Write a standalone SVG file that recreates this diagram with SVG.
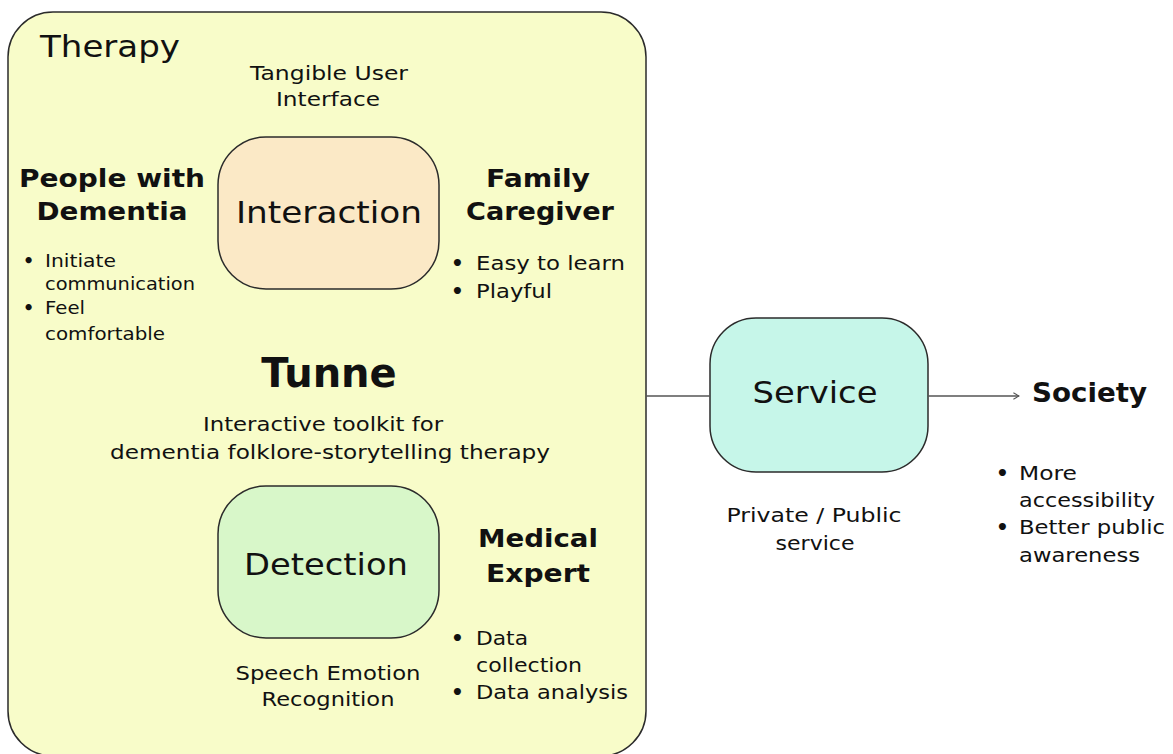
<svg xmlns="http://www.w3.org/2000/svg" width="1173" height="754" viewBox="0 0 1173 754">
  <style>
    text { font-family: "DejaVu Sans", Verdana, sans-serif; fill: #111; }
    .box { stroke: #2b2b2b; stroke-width: 1.5; }
    .title { font-size: 30px; }
    .node-label { font-size: 31px; text-anchor: middle; }
    .head { font-size: 25px; font-weight: bold; text-anchor: middle; }
    .note { font-size: 20px; text-anchor: middle; }
    .list { font-size: 20px; }
    .list-sm { font-size: 17.5px; }
    .dot { font-weight: bold; }
    .link { stroke: #555; stroke-width: 1.3; fill: none; }
  </style>
  <defs>
    <marker id="chevron" viewBox="0 0 10 10" refX="9" refY="5" markerWidth="8" markerHeight="8" markerUnits="userSpaceOnUse" orient="auto">
      <path d="M2,1 L9,5 L2,9" fill="none" stroke="#555" stroke-width="1.3"/>
    </marker>
  </defs>

  <rect width="1173" height="754" fill="#ffffff"/>

  <!-- Therapy container -->
  <g id="therapy">
    <rect class="box" x="8" y="12" width="638" height="744" rx="45" ry="45" fill="#f8fcc9"/>
    <text class="title" x="40" y="57" textLength="140" lengthAdjust="spacingAndGlyphs">Therapy</text>
    <text class="note" x="329" y="80" textLength="158" lengthAdjust="spacingAndGlyphs">Tangible User</text>
    <text class="note" x="328" y="106" textLength="104" lengthAdjust="spacingAndGlyphs">Interface</text>
    <text x="329" y="387" font-size="40" font-weight="bold" text-anchor="middle">Tunne</text>
    <text class="note" x="323" y="431" textLength="240" lengthAdjust="spacingAndGlyphs">Interactive toolkit for</text>
    <text class="note" x="330" y="459" textLength="440" lengthAdjust="spacingAndGlyphs">dementia folklore-storytelling therapy</text>
    <text class="note" x="328" y="680" textLength="185" lengthAdjust="spacingAndGlyphs">Speech Emotion</text>
    <text class="note" x="328" y="706" textLength="133" lengthAdjust="spacingAndGlyphs">Recognition</text>
  </g>

  <!-- Stakeholder: people with dementia -->
  <g id="people-with-dementia">
    <text class="head" x="112" y="187" textLength="186" lengthAdjust="spacingAndGlyphs">People with</text>
    <text class="head" x="112" y="220" textLength="151" lengthAdjust="spacingAndGlyphs">Dementia</text>
    <text class="list-sm" y="267"><tspan class="dot" x="23">•</tspan><tspan x="45" textLength="71" lengthAdjust="spacingAndGlyphs">Initiate</tspan></text>
    <text class="list-sm" x="45" y="290" textLength="150" lengthAdjust="spacingAndGlyphs">communication</text>
    <text class="list-sm" y="314"><tspan class="dot" x="23">•</tspan><tspan x="45" textLength="40" lengthAdjust="spacingAndGlyphs">Feel</tspan></text>
    <text class="list-sm" x="45" y="340" textLength="120" lengthAdjust="spacingAndGlyphs">comfortable</text>
  </g>

  <!-- Stakeholder: family caregiver -->
  <g id="family-caregiver">
    <text class="head" x="538" y="187" textLength="104" lengthAdjust="spacingAndGlyphs">Family</text>
    <text class="head" x="540" y="220" textLength="148" lengthAdjust="spacingAndGlyphs">Caregiver</text>
    <text class="list" y="270"><tspan class="dot" x="451">•</tspan><tspan x="476" textLength="149" lengthAdjust="spacingAndGlyphs">Easy to learn</tspan></text>
    <text class="list" y="298"><tspan class="dot" x="451">•</tspan><tspan x="476" textLength="76" lengthAdjust="spacingAndGlyphs">Playful</tspan></text>
  </g>

  <!-- Stakeholder: medical expert -->
  <g id="medical-expert">
    <text class="head" x="538" y="547" textLength="120" lengthAdjust="spacingAndGlyphs">Medical</text>
    <text class="head" x="538" y="582" textLength="104" lengthAdjust="spacingAndGlyphs">Expert</text>
    <text class="list" y="645"><tspan class="dot" x="451">•</tspan><tspan x="476" textLength="52" lengthAdjust="spacingAndGlyphs">Data</tspan></text>
    <text class="list" x="476" y="672" textLength="106" lengthAdjust="spacingAndGlyphs">collection</text>
    <text class="list" y="699"><tspan class="dot" x="451">•</tspan><tspan x="476" textLength="152" lengthAdjust="spacingAndGlyphs">Data analysis</tspan></text>
  </g>

  <g id="interaction">
    <rect class="box" x="218" y="137" width="221" height="152" rx="48" ry="48" fill="#fbe9c6"/>
    <text class="node-label" x="329" y="223" textLength="186" lengthAdjust="spacingAndGlyphs">Interaction</text>
  </g>

  <g id="detection">
    <rect class="box" x="218" y="486" width="221" height="152" rx="48" ry="48" fill="#d8f7c9"/>
    <text class="node-label" x="326" y="575" textLength="164" lengthAdjust="spacingAndGlyphs">Detection</text>
  </g>

  <g id="service">
    <rect class="box" x="710" y="318" width="218" height="154" rx="46" ry="46" fill="#c6f6e9"/>
    <text class="node-label" x="815" y="403" textLength="125" lengthAdjust="spacingAndGlyphs">Service</text>
    <text class="note" x="814" y="522" textLength="175" lengthAdjust="spacingAndGlyphs">Private / Public</text>
    <text class="note" x="815" y="550" textLength="79" lengthAdjust="spacingAndGlyphs">service</text>
  </g>

  <g id="society">
    <text x="1032" y="402" font-size="26" font-weight="bold" textLength="115" lengthAdjust="spacingAndGlyphs">Society</text>
    <text class="list" y="480"><tspan class="dot" x="996">•</tspan><tspan x="1019" textLength="58" lengthAdjust="spacingAndGlyphs">More</tspan></text>
    <text class="list" x="1019" y="507" textLength="136" lengthAdjust="spacingAndGlyphs">accessibility</text>
    <text class="list" y="534"><tspan class="dot" x="996">•</tspan><tspan x="1019" textLength="146" lengthAdjust="spacingAndGlyphs">Better public</tspan></text>
    <text class="list" x="1019" y="562" textLength="121" lengthAdjust="spacingAndGlyphs">awareness</text>
  </g>

  <!-- Connectors -->
  <g id="connectors">
    <line class="link" x1="646" y1="396" x2="710" y2="396"/>
    <line class="link" x1="928" y1="396" x2="1019" y2="396" marker-end="url(#chevron)"/>
  </g>
</svg>
